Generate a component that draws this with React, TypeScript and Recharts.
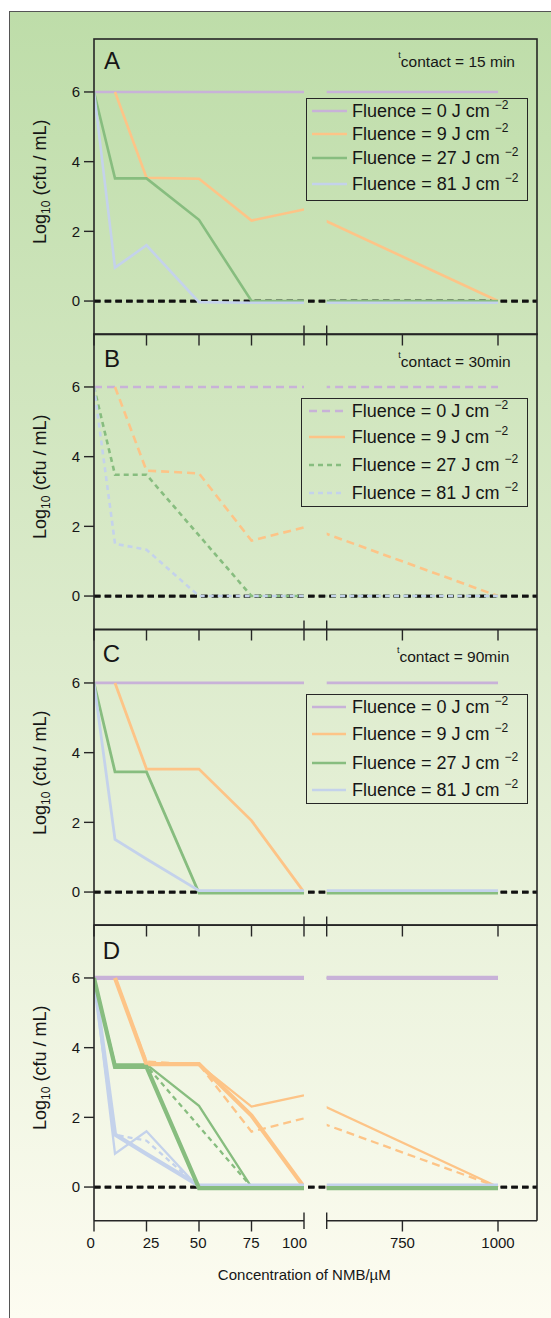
import React from 'react';
import { LineChart, Line, XAxis, YAxis, ReferenceLine, Legend } from 'recharts';

// ---------------- data ----------------
const leftConcentrations = [0, 10, 25, 50, 75, 100]; // µM, left of axis break
const rightConcentrations = [540, 1000]; // µM, right of axis break
const leftTicks = [0, 25, 50, 75, 100];
const rightTicks = [552, 750, 1000]; // first one = break mark (no label)
const yTicks = [0, 2, 4, 6];
const fluences = [0, 9, 27, 81]; // J cm^-2
const panelLetters = ['A', 'B', 'C', 'D'];
const contactTimes = ['15 min', '30min', '90min'];
const xTitle = 'Concentration of NMB/µM';

// Panel A: t contact = 15 min
const a0Left = [6, 6, 6, 6, 6, 6];
const a0Right = [6, 6];
const a9Left = [null, 6, 3.54, 3.51, 2.31, 2.63];
const a9Right = [2.35, 0];
const a27Left = [6, 3.52, 3.52, 2.33, 0, 0];
const a27Right = [0, 0];
const a81Left = [6, 0.96, 1.6, -0.03, -0.05, -0.05];
const a81Right = [-0.05, -0.05];

// Panel B: t contact = 30 min
const b0Left = [6, 6, 6, 6, 6, 6];
const b0Right = [6, 6];
const b9Left = [null, 6, 3.6, 3.52, 1.59, 1.97];
const b9Right = [1.83, 0];
const b27Left = [6, 3.48, 3.48, 1.74, 0, 0];
const b27Right = [0, 0];
const b81Left = [6, 1.5, 1.33, 0, 0, 0];
const b81Right = [0, 0];

// Panel C: t contact = 90 min
const c0Left = [6, 6, 6, 6, 6, 6];
const c0Right = [6, 6];
const c9Left = [null, 6, 3.53, 3.53, 2.05, 0];
const c9Right = [0, 0];
const c27Left = [6, 3.45, 3.45, -0.03, -0.03, -0.03];
const c27Right = [-0.03, -0.03];
const c81Left = [6, 1.51, 0.95, 0.04, 0.04, 0.04];
const c81Right = [0.04, 0.04];

// ---------------- styles / layout ----------------
const FONT = '"Liberation Sans", Arial, Helvetica, sans-serif';
const fluenceColors = ['#c8b2d8', '#fdc487', '#87bd7f', '#c4d2eb'];
const PAGE_W = 551;
const PAGE_H = 1318;
const PLOT_LEFT = 94;
const PLOT_RIGHT = 537;
const BREAK_L = 304;
const BREAK_R = 326.7;
const PANEL_TOPS = [39, 334, 629.5, 925.2];
const PANEL_H = 295.5;
const Y_DOMAIN: [number, number] = [-0.96, 7.52];
const AXIS_H = 1;
const BORDER = '#262626';
const TEXT = '#161616';

type Vals = (number | null)[];
type SetDef = { left: Vals[]; right: Vals[] };
const setA: SetDef = { left: [a0Left, a9Left, a27Left, a81Left], right: [a0Right, a9Right, a27Right, a81Right] };
const setB: SetDef = { left: [b0Left, b9Left, b27Left, b81Left], right: [b0Right, b9Right, b27Right, b81Right] };
const setC: SetDef = { left: [c0Left, c9Left, c27Left, c81Left], right: [c0Right, c9Right, c27Right, c81Right] };

const dashB = ['8 5', '8 5', '5 4', '5 4'];

type Style = { width: number; dash: (string | undefined)[] };
const styleSolid = (w: number): Style => ({ width: w, dash: [undefined, undefined, undefined, undefined] });

const panelLayers: { set: SetDef; style: Style; order: number[] }[][] = [
  [{ set: setA, style: styleSolid(2.6), order: [0, 1, 2, 3] }],
  [{ set: setB, style: { width: 2.6, dash: dashB }, order: [0, 1, 2, 3] }],
  [{ set: setC, style: styleSolid(2.8), order: [0, 1, 2, 3] }],
  [
    { set: setB, style: { width: 2.3, dash: dashB }, order: [0, 1, 3, 2] },
    { set: setA, style: styleSolid(2.3), order: [0, 1, 3, 2] },
    { set: setC, style: styleSolid(4.2), order: [0, 1, 3, 2] },
  ],
];

const legendCfg = [
  { left: 306, top: 58.7, width: 222, padTop: 1.5, padBottom: 2.5, padLeft: 4.5, sample: 35, gap: 5.6, rows: [22, 23.5, 24.5, 27], dash: [undefined, undefined, undefined, undefined] },
  { left: 300.7, top: 64.3, width: 227.3, padTop: 0, padBottom: 0, padLeft: 7.1, sample: 36, gap: 7, rows: [24, 28, 28, 27], dash: ['8 5', undefined, '5 4', '5 4'] },
  { left: 306, top: 64.5, width: 222, padTop: 0, padBottom: 0, padLeft: 4.8, sample: 34.5, gap: 5.6, rows: [24, 29, 29, 26], dash: [undefined, undefined, undefined, undefined] },
];

const letterPos = [
  { x: 104, base: 30.3 },
  { x: 104, base: 32.7 },
  { x: 102.7, base: 32.2 },
  { x: 102.7, base: 33.8 },
];
const contactPos = [
  { right: 515, base: 66.7 },
  { right: 510.7, base: 367.3 },
  { right: 509.3, base: 662.3 },
];
const labelDx: Record<number, number> = { 0: -3.4, 25: 4.5, 50: -0.8, 75: -0.3, 100: -9.5, 750: 0, 1000: 0 };
const breakValues = [leftTicks[leftTicks.length - 1], rightTicks[0]];

const toPoints = (xs: number[], ys: Vals) =>
  xs
    .map((x, i) => ({ x, y: ys[i] }))
    .filter((p) => p.y !== null && p.y !== undefined) as { x: number; y: number }[];

// ---------------- components ----------------
function makeTick(panel: number, shift: number) {
  return (props: any) => {
    const { x, y, payload } = props;
    const v = payload.value as number;
    const base = y - shift;
    const isBreak = breakValues.includes(v);
    const isD = panel === 3;
    const y1 = isBreak ? base - (isD ? 8 : 9) : base;
    const y2 = isBreak ? base + (isD ? 8.5 : 11) : base + 11;
    const showLabel = isD && v !== rightTicks[0];
    return (
      <g>
        <line x1={x} x2={x} y1={y1} y2={y2} stroke={BORDER} strokeWidth={1.4} />
        {showLabel && (
          <text x={x + (labelDx[v] ?? 0)} y={base + 27.5} textAnchor="middle" fontSize={15} fontFamily={FONT} fill={TEXT}>
            {v}
          </text>
        )}
      </g>
    );
  };
}

const YLabel = (props: any) => {
  const vb = props.viewBox || { x: 0, y: 0, width: 0, height: 0 };
  const cx = (vb.x || 0) + 45.5;
  const cy = vb.y + vb.height / 2 - 5;
  return (
    <text transform={`rotate(-90 ${cx} ${cy})`} x={cx} y={cy} textAnchor="middle" fontFamily={FONT} fontSize={18} fill={TEXT}>
      Log
      <tspan fontSize={12} dy={4}>
        10
      </tspan>
      <tspan dy={-4}> (cfu / mL)</tspan>
    </text>
  );
};

function LegendBox({ payload, panel }: { payload?: any[]; panel: number }) {
  const cfg = legendCfg[panel];
  const seen = new Set<string>();
  const items = (payload || [])
    .filter((it) => it.type !== 'none' && !(it.payload && it.payload.legendType === 'none'))
    .filter((it) => {
      const k = String(it.value);
      if (seen.has(k)) return false;
      seen.add(k);
      return true;
    })
    .sort((a, b) => Number(a.value) - Number(b.value));
  return (
    <div
      style={{
        boxSizing: 'border-box',
        width: cfg.width,
        border: `1.5px solid ${BORDER}`,
        paddingTop: cfg.padTop,
        paddingBottom: cfg.padBottom,
        paddingLeft: cfg.padLeft,
        fontFamily: FONT,
        fontSize: 18,
        color: TEXT,
      }}
    >
      {items.map((it, i) => {
        const fi = fluences.indexOf(Number(it.value));
        return (
          <div key={i} style={{ display: 'flex', alignItems: 'center', height: cfg.rows[i] }}>
            <svg width={cfg.sample} height={8} style={{ flex: 'none', display: 'block' }}>
              <line x1={0} y1={4} x2={cfg.sample} y2={4} stroke={fluenceColors[fi]} strokeWidth={2.6} strokeDasharray={cfg.dash[fi]} />
            </svg>
            <span style={{ marginLeft: cfg.gap, whiteSpace: 'nowrap', lineHeight: 1 }}>
              Fluence = {it.value} J cm{' '}
              <span style={{ fontSize: 12, position: 'relative', top: -8 }}>−2</span>
            </span>
          </div>
        );
      })}
    </div>
  );
}

function PanelChart({ index }: { index: number }) {
  const isD = index === 3;
  const bottom = isD ? 70 : 16;
  const height = PANEL_H + 2 * AXIS_H + bottom;
  const lines: React.ReactNode[] = [];
  panelLayers[index].forEach((layer, li) => {
    layer.order.forEach((fi) => {
      (['L', 'R'] as const).forEach((side) => {
        const xs = side === 'L' ? leftConcentrations : rightConcentrations;
        const ys = side === 'L' ? layer.set.left[fi] : layer.set.right[fi];
        lines.push(
          <Line
            key={`${li}-${fi}-${side}`}
            xAxisId={side}
            data={toPoints(xs, ys)}
            dataKey="y"
            type="linear"
            name={String(fluences[fi])}
            stroke={fluenceColors[fi]}
            strokeWidth={layer.style.width}
            strokeDasharray={layer.style.dash[fi]}
            dot={false}
            activeDot={false}
            legendType={side === 'L' && !isD ? 'line' : 'none'}
            isAnimationActive={false}
          />
        );
      });
    });
  });

  return (
    <div style={{ position: 'absolute', left: 0, top: PANEL_TOPS[index] }}>
      <LineChart width={PAGE_W} height={height} margin={{ top: 0, right: PAGE_W - PLOT_RIGHT, bottom, left: 0 }}>
        <XAxis
          xAxisId="L"
          type="number"
          dataKey="x"
          domain={[0, 100]}
          ticks={leftTicks}
          interval={0}
          allowDataOverflow
          padding={{ left: 0, right: PLOT_RIGHT - BREAK_L }}
          axisLine={false}
          tickLine={false}
          tickSize={0}
          tickMargin={0}
          height={AXIS_H}
          tick={makeTick(index, 0)}
        />
        <XAxis
          xAxisId="R"
          type="number"
          dataKey="x"
          domain={[rightTicks[0], 1102]}
          ticks={rightTicks}
          interval={0}
          allowDataOverflow
          padding={{ left: BREAK_R - PLOT_LEFT, right: 0 }}
          axisLine={false}
          tickLine={false}
          tickSize={0}
          tickMargin={0}
          height={AXIS_H}
          tick={makeTick(index, AXIS_H)}
        />
        <YAxis
          type="number"
          domain={Y_DOMAIN}
          allowDataOverflow
          ticks={yTicks}
          interval={0}
          width={PLOT_LEFT}
          axisLine={false}
          tickLine={{ stroke: BORDER, strokeWidth: 1.4 }}
          tickSize={10}
          tickMargin={4}
          tick={{ fontSize: 15, fill: TEXT, fontFamily: FONT }}
          label={{ value: 'Log10 (cfu / mL)', content: YLabel }}
        />
        <ReferenceLine y={0} xAxisId="L" stroke="#111" strokeWidth={2.7} strokeDasharray="6.5 4.2" />
        <ReferenceLine y={0} xAxisId="R" stroke="#111" strokeWidth={2.7} strokeDasharray="6.5 4.2" />
        {lines}
        {!isD && (
          <Legend
            layout="vertical"
            align="center"
            verticalAlign="middle"
            wrapperStyle={{ left: legendCfg[index].left, top: legendCfg[index].top, width: legendCfg[index].width }}
            content={(p: any) => <LegendBox payload={p.payload} panel={index} />}
          />
        )}
      </LineChart>
    </div>
  );
}

export default function App() {
  const dTop = PANEL_TOPS[3];
  const dBottom = dTop + PANEL_H;
  return (
    <div style={{ position: 'absolute', left: 0, top: 0, width: PAGE_W, height: PAGE_H, overflow: 'hidden', background: '#fff' }}>
      <div
        style={{
          position: 'absolute',
          left: 9,
          top: 10.5,
          width: PAGE_W - 9,
          height: PAGE_H - 10.5,
          boxSizing: 'border-box',
          borderLeft: '1.5px solid #555',
          borderTop: '1.5px solid #555',
          background: 'linear-gradient(to bottom, #bedda9 0%, #dcebcc 48%, #fdfcf1 100%)',
        }}
      />
      {[0, 1, 2, 3].map((i) => (
        <PanelChart key={i} index={i} />
      ))}
      <svg width={PAGE_W} height={PAGE_H} style={{ position: 'absolute', left: 0, top: 0, pointerEvents: 'none' }}>
        {PANEL_TOPS.slice(0, 3).map((t, i) => (
          <rect key={i} x={PLOT_LEFT} y={t} width={PLOT_RIGHT - PLOT_LEFT} height={PANEL_H} fill="none" stroke={BORDER} strokeWidth={1.6} />
        ))}
        <path d={`M${PLOT_LEFT} ${dBottom} V${dTop} H${PLOT_RIGHT} V${dBottom}`} fill="none" stroke={BORDER} strokeWidth={1.6} />
        <line x1={PLOT_LEFT} x2={BREAK_L} y1={dBottom} y2={dBottom} stroke={BORDER} strokeWidth={1.6} />
        <line x1={BREAK_R} x2={PLOT_RIGHT} y1={dBottom} y2={dBottom} stroke={BORDER} strokeWidth={1.6} />
        {panelLetters.map((l, i) => (
          <text key={l} x={letterPos[i].x} y={PANEL_TOPS[i] + letterPos[i].base} fontSize={24} fontFamily={FONT} fill={TEXT}>
            {l}
          </text>
        ))}
        {contactTimes.map((c, i) => (
          <text key={c} x={contactPos[i].right} y={contactPos[i].base} textAnchor="end" fontFamily={FONT} fill={TEXT} fontSize={15.5}>
            <tspan fontSize={9} dy={-9}>
              t
            </tspan>
            <tspan dy={9}>contact = {c}</tspan>
          </text>
        ))}
        <text x={304.3} y={1280} textAnchor="middle" fontSize={15} fontFamily={FONT} fill={TEXT}>
          {xTitle}
        </text>
      </svg>
    </div>
  );
}
